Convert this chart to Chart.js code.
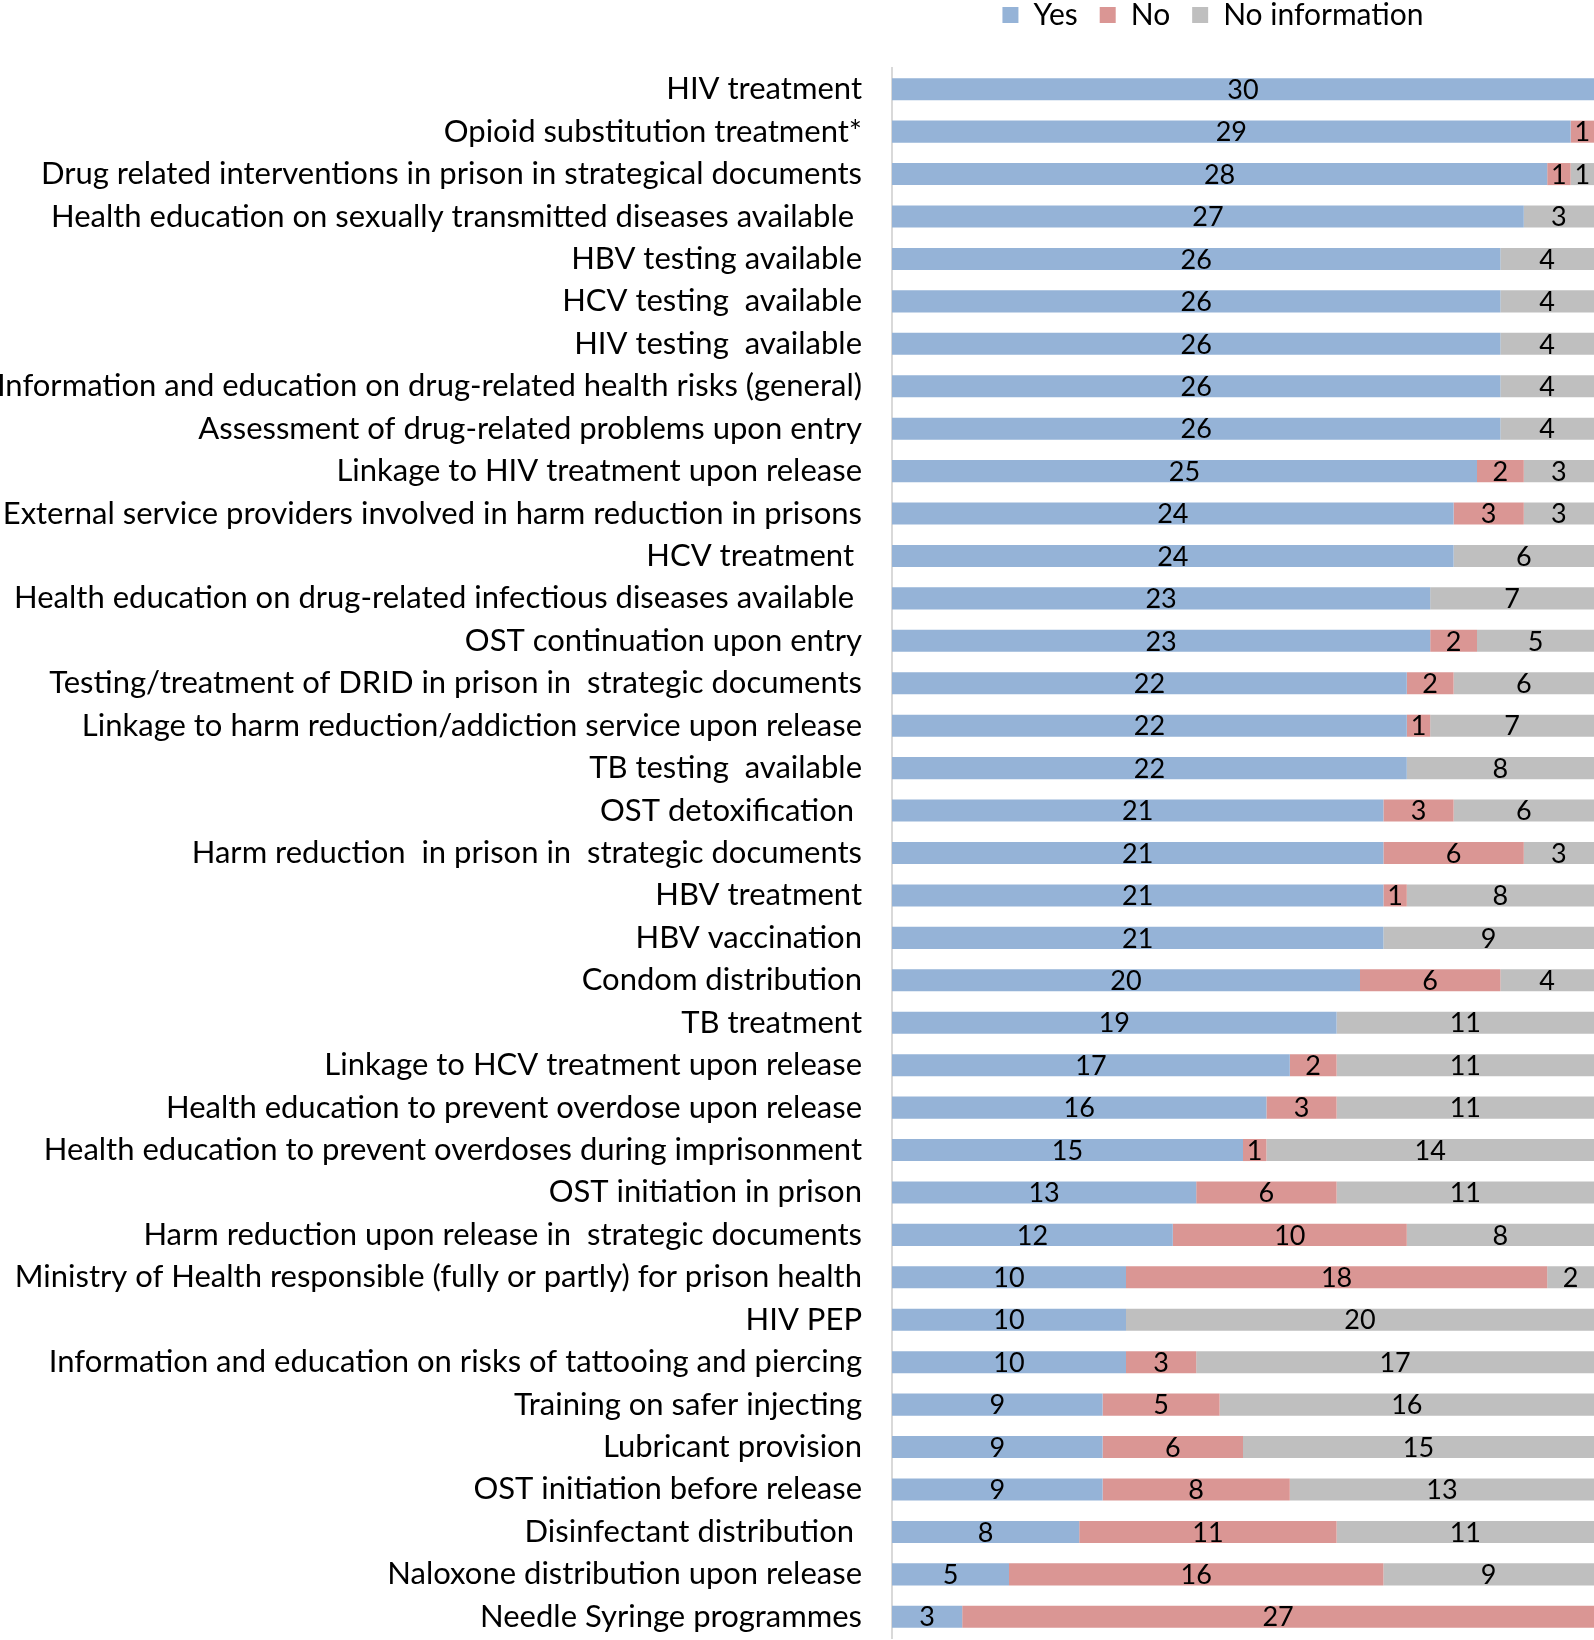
<!DOCTYPE html>
<html>
<head>
<meta charset="utf-8">
<title>Harm reduction services in prisons</title>
<script src="https://cdn.jsdelivr.net/npm/chart.js@4.4.1/dist/chart.umd.min.js"></script>
<style>
  html, body { margin: 0; padding: 0; background: #fff; overflow: hidden; }
  canvas { display: block; }
</style>
</head>
<body>
<canvas id="servicesChart" width="1594" height="1640"></canvas>
<script>
// categories, top to bottom
const categories = [
    'HIV treatment',
    'Opioid substitution treatment*',
    'Drug related interventions in prison in strategical documents',
    'Health education on sexually transmitted diseases available ',
    'HBV testing available',
    'HCV testing  available',
    'HIV testing  available',
    'Information and education on drug-related health risks (general)',
    'Assessment of drug-related problems upon entry',
    'Linkage to HIV treatment upon release',
    'External service providers involved in harm reduction in prisons',
    'HCV treatment ',
    'Health education on drug-related infectious diseases available ',
    'OST continuation upon entry',
    'Testing/treatment of DRID in prison in  strategic documents',
    'Linkage to harm reduction/addiction service upon release',
    'TB testing  available',
    'OST detoxification ',
    'Harm reduction  in prison in  strategic documents',
    'HBV treatment',
    'HBV vaccination',
    'Condom distribution',
    'TB treatment',
    'Linkage to HCV treatment upon release',
    'Health education to prevent overdose upon release',
    'Health education to prevent overdoses during imprisonment',
    'OST initiation in prison',
    'Harm reduction upon release in  strategic documents',
    'Ministry of Health responsible (fully or partly) for prison health',
    'HIV PEP',
    'Information and education on risks of tattooing and piercing',
    'Training on safer injecting',
    'Lubricant provision',
    'OST initiation before release',
    'Disinfectant distribution ',
    'Naloxone distribution upon release',
    'Needle Syringe programmes'
];

const yesValues = [30, 29, 28, 27, 26, 26, 26, 26, 26, 25, 24, 24, 23, 23, 22, 22, 22, 21, 21, 21, 21, 20, 19, 17, 16, 15, 13, 12, 10, 10, 10, 9, 9, 9, 8, 5, 3];
const noValues = [0, 1, 1, 0, 0, 0, 0, 0, 0, 2, 3, 0, 0, 2, 2, 1, 0, 3, 6, 1, 0, 6, 0, 2, 3, 1, 6, 10, 18, 0, 3, 5, 6, 8, 11, 16, 27];
const noInfoValues = [0, 0, 1, 3, 4, 4, 4, 4, 4, 3, 3, 6, 7, 5, 6, 7, 8, 6, 3, 8, 9, 4, 11, 11, 11, 14, 11, 8, 2, 20, 17, 16, 15, 13, 11, 9, 0];

const seriesNames = ['Yes', 'No', 'No information'];

const FONT = 'Lato';
const FONT_SIZE = 31;

// valores dentro de cada segmento
const segmentLabels = {
    id: 'segmentLabels',
    afterDatasetsDraw(chart) {
        const ctx = chart.ctx;
        ctx.save();
        ctx.font = '27px ' + FONT;
        ctx.fillStyle = '#000';
        ctx.textAlign = 'center';
        ctx.textBaseline = 'middle';
        chart.data.datasets.forEach((ds, i) => {
            const meta = chart.getDatasetMeta(i);
            meta.data.forEach((bar, j) => {
                const v = ds.data[j];
                if (!v) return;
                ctx.fillText(String(v), (bar.x + bar.base) / 2, bar.y + 1);
            });
        });
        ctx.restore();
    }
};

// espacio extra bajo la leyenda y desplazamiento horizontal
const legendTweak = {
    id: 'legendTweak',
    beforeInit(chart) {
        const legend = chart.legend;
        const fit = legend.fit;
        legend.fit = function() {
            fit.call(this);
            this.height += 28;
        };
    },
    afterLayout(chart) {
        const legend = chart.legend;
        legend.left -= 30;
        legend.right -= 30;
    }
};

new Chart(document.getElementById('servicesChart'), {
    type: 'bar',
    data: {
        labels: categories,
        datasets: [
            { label: seriesNames[0], data: yesValues, backgroundColor: '#95B3D7' },
            { label: seriesNames[1], data: noValues, backgroundColor: '#DA9694' },
            { label: seriesNames[2], data: noInfoValues, backgroundColor: '#BFBFBF' }
        ]
    },
    options: {
        indexAxis: 'y',
        responsive: false,
        animation: false,
        layout: { padding: { top: -22, left: 0, right: 0, bottom: 2 } },
        datasets: {
            bar: { barPercentage: 0.52, categoryPercentage: 1, borderWidth: 0 }
        },
        plugins: {
            legend: {
                position: 'top',
                fullSize: false,
                labels: {
                    font: { family: FONT, size: 30 },
                    color: '#000',
                    boxWidth: 16,
                    boxHeight: 16,
                    padding: 22
                }
            },
            tooltip: { enabled: false }
        },
        scales: {
            x: {
                stacked: true,
                display: false,
                min: 0,
                max: 30
            },
            y: {
                stacked: true,
                afterFit(scale) {
                    scale.width = 892;
                    // sin margen extra arriba/abajo por las etiquetas
                    scale.paddingTop = 0;
                    scale.paddingBottom = 0;
                },
                grid: { display: false, drawTicks: false },
                border: { display: true, color: '#D9D9D9', width: 2 },
                ticks: {
                    autoSkip: false,
                    padding: 30,
                    color: '#000',
                    font: { family: FONT, size: FONT_SIZE }
                }
            }
        }
    },
    plugins: [segmentLabels, legendTweak]
});
</script>
</body>
</html>
